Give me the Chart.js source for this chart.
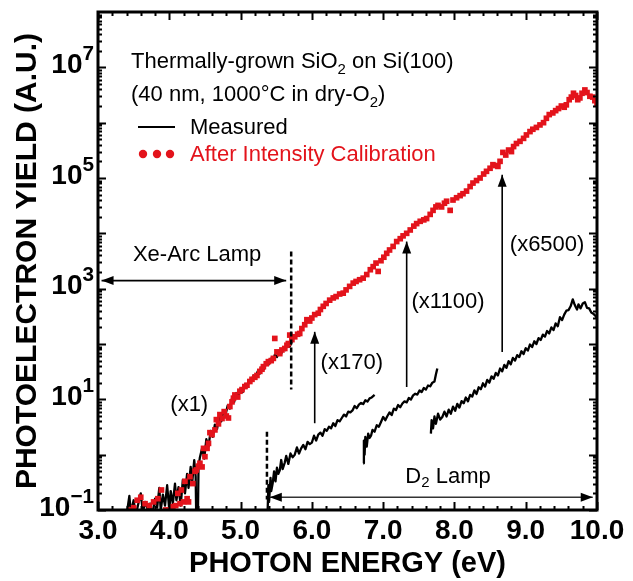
<!DOCTYPE html>
<html>
<head>
<meta charset="utf-8">
<script src="https://cdn.jsdelivr.net/npm/chart.js@4.4.1/dist/chart.umd.min.js"></script>
<style>
body { margin: 0; background: #fff; }
#wrap { width: 633px; height: 581px; }
</style>
</head>
<body>
<div id="wrap"><canvas id="pys"></canvas></div>
<script>
const FONT = '"Liberation Sans", Arial, Helvetica, sans-serif';
const RED = '#e3131b';

// After Intensity Calibration (red squares)
const calEnergy = [3.45, 3.50, 3.55, 3.60, 3.66, 3.72, 3.78, 3.84, 3.89, 3.95, 3.99, 4.02, 4.05, 4.09, 4.12, 4.15, 4.17, 4.20, 4.22, 4.25,
    4.27, 4.29, 4.33, 4.36, 4.38, 4.41, 4.43, 4.46, 4.48, 4.50, 4.53, 4.55, 4.57, 4.60, 4.64, 4.66, 4.69, 4.71, 4.74, 4.77,
    4.80, 4.83, 4.85, 4.88, 4.90, 4.92, 4.96, 4.99, 5.02, 5.06, 5.09, 5.13, 5.16, 5.20, 5.23, 5.27, 5.30, 5.32, 5.36, 5.39,
    5.43, 5.46, 5.48, 5.51, 5.55, 5.58, 5.62, 5.65, 5.67, 5.69, 5.72, 5.76, 5.80, 5.83, 5.86, 5.90, 5.93, 5.97, 6.00, 6.04,
    6.09, 6.12, 6.16, 6.20, 6.25, 6.30, 6.34, 6.39, 6.44, 6.48, 6.53, 6.58, 6.62, 6.67, 6.72, 6.77, 6.82, 6.86, 6.90, 6.93,
    6.97, 7.01, 7.05, 7.09, 7.14, 7.19, 7.24, 7.28, 7.33, 7.38, 7.43, 7.47, 7.52, 7.57, 7.61, 7.66, 7.70, 7.74, 7.77, 7.82,
    7.86, 7.89, 7.94, 7.98, 8.03, 8.08, 8.12, 8.17, 8.22, 8.26, 8.31, 8.36, 8.41, 8.45, 8.50, 8.54, 8.58, 8.61, 8.64, 8.68,
    8.72, 8.76, 8.80, 8.83, 8.87, 8.92, 8.97, 9.01, 9.06, 9.10, 9.15, 9.20, 9.25, 9.29, 9.33, 9.38, 9.42, 9.46, 9.50, 9.54,
    9.57, 9.61, 9.64, 9.67, 9.70, 9.73, 9.76, 9.79, 9.83, 9.86, 9.90, 9.94, 9.97, 10.0];
const calYield = [0.10, 0.11, 0.15, 0.17, 0.13, 0.12, 0.14, 0.16, 0.23, 0.10, 0.10, 0.09, 0.115, 0.12, 0.20, 0.13, 0.23, 0.14, 0.33, 0.16,
    0.14, 0.40, 0.30, 0.50, 0.53, 0.62, 0.70, 0.60, 1.3, 0.92, 1.3, 1.6, 2.5, 2.3, 2.8, 4.3, 3.6, 5.3, 4.5, 6.0,
    5.0, 4.6, 7.4, 9.0, 10.5, 12, 11, 14, 15, 17, 18, 21, 23, 25, 27, 32, 35, 39, 44, 48,
    50, 55, 126, 72, 67, 78, 83, 95, 102, 145, 120, 135, 150, 155, 190, 223, 275, 260, 295, 340,
    360, 420, 480, 540, 620, 680, 720, 800, 830, 950, 1100, 1260, 1350, 1450, 1550, 1800, 2200, 2500, 2900, 2050,
    3200, 3700, 4350, 5000, 5800, 7100, 8000, 9000, 10000, 11500, 13500, 15000, 16500, 17500, 18500, 22000, 26000, 30000, 32000, 30000,
    35000, 38000, 26000, 40000, 44000, 48000, 52000, 58000, 70000, 81000, 90000, 100000, 118000, 132000, 150000, 174000, 168000, 162000, 200000, 290000,
    260000, 320000, 300000, 370000, 420000, 460000, 520000, 600000, 690000, 760000, 820000, 910000, 1.0e6, 1.2e6, 1.4e6, 1.5e6, 1.65e6, 1.8e6, 2.0e6, 1.9e6,
    2.1e6, 2.6e6, 2.9e6, 3.4e6, 3.1e6, 2.6e6, 2.8e6, 3.4e6, 3.9e6, 3.5e6, 3.0e6, 2.9e6, 2.5e6, 2.25e6];

// Measured, Xe-arc lamp (x1)
const xeEnergy = [3.40, 3.44, 3.46, 3.50, 3.53, 3.56, 3.60, 3.63, 3.66, 3.70, 3.73, 3.76, 3.80, 3.83, 3.86, 3.88, 3.91, 3.94, 3.97, 4.00,
    4.02, 4.05, 4.08, 4.10, 4.13, 4.16, 4.19, 4.22, 4.25, 4.27, 4.30, 4.32, 4.35, 4.37, 4.38, 4.40, 4.41, 4.43, 4.46, 4.49,
    4.52, 4.55, 4.58, 4.61, 4.64, 4.67, 4.70, 4.73, 4.76, 4.79, 4.82, 4.85, 4.88, 4.91, 4.94, 4.97, 5.00, 5.03, 5.06, 5.09,
    5.12, 5.15, 5.18, 5.21, 5.24, 5.27, 5.30, 5.33, 5.36, 5.39, 5.42, 5.45, 5.48, 5.51, 5.54, 5.57, 5.60, 5.63, 5.66, 5.69, 5.72];
const xeYield = [0.08, 0.18, 0.09, 0.15, 0.08, 0.12, 0.20, 0.09, 0.14, 0.10, 0.13, 0.08, 0.16, 0.11, 0.25, 0.10, 0.19, 0.12, 0.28, 0.10,
    0.22, 0.13, 0.30, 0.15, 0.26, 0.12, 0.35, 0.20, 0.45, 0.25, 0.60, 0.30, 0.80, 0.40, 0.05, 0.05, 0.60, 0.90, 1.3, 0.85,
    1.9, 1.4, 2.7, 2.1, 3.5, 2.9, 4.8, 4.0, 6.2, 5.3, 7.8, 6.8, 10.5, 9.0, 13, 11.5, 15.5, 13.5, 18.5, 16.5,
    22, 21, 27, 24, 32, 29, 39, 35, 47, 42, 54, 48, 64, 58, 75, 66, 88, 78, 104, 90, 112];

// Measured, D2 lamp (x170)
const d2aEnergy = [5.38, 5.39, 5.40, 5.42, 5.43, 5.45, 5.47, 5.49, 5.51, 5.53, 5.55, 5.57, 5.59, 5.62, 5.64, 5.67, 5.70, 5.73, 5.76, 5.79,
    5.82, 5.85, 5.88, 5.91, 5.94, 5.97, 6.00, 6.03, 6.06, 6.09, 6.12, 6.15, 6.18, 6.21, 6.24, 6.27, 6.30, 6.33, 6.36, 6.39,
    6.42, 6.45, 6.48, 6.51, 6.54, 6.57, 6.60, 6.63, 6.66, 6.69, 6.72, 6.75, 6.78, 6.81, 6.84, 6.88];
const d2aYield = [0.10, 0.28, 0.14, 0.38, 0.22, 0.30, 0.50, 0.33, 0.58, 0.45, 0.52, 0.80, 0.55, 0.72, 0.95, 0.68, 1.05, 0.90, 1.0, 1.35,
    1.05, 1.3, 1.5, 1.25, 1.7, 1.55, 1.65, 2.2, 1.8, 2.3, 2.5, 2.2, 2.9, 2.7, 3.2, 3.0, 3.7, 3.3, 4.2, 4.0,
    4.6, 5.3, 4.9, 6.0, 5.8, 6.3, 7.6, 6.9, 8.0, 8.6, 8.2, 9.6, 9.1, 10.4, 10.8, 12.0];

// Measured, D2 lamp (x1100)
const d2bEnergy = [6.72, 6.73, 6.74, 6.75, 6.77, 6.79, 6.81, 6.83, 6.85, 6.88, 6.91, 6.94, 6.97, 7.00, 7.03, 7.06, 7.09, 7.12, 7.15, 7.18,
    7.21, 7.24, 7.27, 7.30, 7.33, 7.36, 7.39, 7.42, 7.45, 7.48, 7.51, 7.54, 7.57, 7.60, 7.63, 7.66, 7.69, 7.72, 7.74, 7.76];
const d2bYield = [0.70, 1.8, 1.0, 2.1, 1.4, 2.4, 2.0, 2.2, 2.8, 2.6, 3.4, 3.2, 3.9, 4.8, 4.2, 5.0, 5.8, 5.2, 6.8, 6.4,
    7.9, 7.2, 8.4, 9.2, 8.8, 10.6, 9.9, 11.8, 12.6, 12.2, 14.5, 13.5, 16.0, 15.0, 17.8, 17.2, 20, 21, 28, 36];

// Measured, D2 lamp (x6500)
const d2cEnergy = [7.67, 7.68, 7.70, 7.72, 7.74, 7.77, 7.80, 7.83, 7.86, 7.89, 7.92, 7.95, 7.98, 8.01, 8.04, 8.07, 8.10, 8.13, 8.16, 8.19,
    8.22, 8.25, 8.28, 8.31, 8.34, 8.37, 8.40, 8.43, 8.46, 8.49, 8.52, 8.55, 8.58, 8.61, 8.64, 8.67, 8.70, 8.73, 8.76, 8.79,
    8.82, 8.85, 8.88, 8.91, 8.94, 8.97, 9.00, 9.03, 9.06, 9.09, 9.12, 9.15, 9.18, 9.21, 9.24, 9.27, 9.30, 9.33, 9.36, 9.39,
    9.42, 9.45, 9.48, 9.51, 9.54, 9.57, 9.60, 9.63, 9.66, 9.68, 9.70, 9.72, 9.74, 9.77, 9.80, 9.83, 9.86, 9.89, 9.92, 9.95, 9.98, 10.0];
const d2cYield = [2.4, 4.2, 3.0, 4.9, 3.6, 5.5, 4.3, 4.8, 6.0, 4.9, 6.5, 5.5, 7.4, 6.2, 8.3, 7.1, 9.3, 8.5, 10.8, 9.2,
    12.0, 11.2, 14.5, 12.5, 16.5, 15.2, 19.5, 17.0, 22.5, 20.0, 26, 23.5, 30, 27, 36, 32, 42, 37, 49, 43,
    56, 50, 63, 58, 74, 66, 84, 76, 98, 88, 112, 100, 128, 118, 148, 136, 172, 155, 200, 178,
    235, 210, 305, 270, 340, 400, 410, 480, 640, 540, 470, 420, 520, 440, 540, 570, 450, 440, 370, 350, 320, 290];

// axis labels
const xTickLabels = ['3.0', '4.0', '5.0', '6.0', '7.0', '8.0', '9.0', '10.0'];
const yLabelExponents = [-1, 1, 3, 5, 7];

function pts(xs, ys) {
    return xs.map((x, i) => ({x: x, y: ys[i]}));
}

function measured(xs, ys) {
    return {
        data: pts(xs, ys),
        showLine: true,
        borderColor: '#000',
        borderWidth: 2.3,
        borderJoinStyle: 'round',
        pointRadius: 0,
        tension: 0,
    };
}

// text with sub/superscript pieces
function richWidth(ctx, parts, size, weight, small) {
    let w = 0;
    for (let [t, m] of parts) {
        ctx.font = weight + ' ' + (m ? size * small : size) + 'px ' + FONT;
        w += ctx.measureText(t).width;
    }
    return w;
}
function richText(ctx, parts, x, y, size, weight, align, small) {
    small = small || 0.68;
    let w = richWidth(ctx, parts, size, weight, small);
    let cx = align == 'right' ? x - w : align == 'center' ? x - w / 2 : x;
    ctx.textAlign = 'left';
    for (let [t, m] of parts) {
        ctx.font = weight + ' ' + (m ? size * small : size) + 'px ' + FONT;
        let dy = m == 'sub' ? size * 0.28 : m == 'sup' ? -size * 0.4 : 0;
        ctx.fillText(t, cx, y + dy);
        cx += ctx.measureText(t).width;
    }
}

function arrowHead(ctx, x, y, dx, dy) {
    let len = Math.hypot(dx, dy), ux = dx / len, uy = dy / len;
    let L = 12, W = 4.5;
    ctx.beginPath();
    ctx.moveTo(x, y);
    ctx.lineTo(x - ux * L - uy * W, y - uy * L + ux * W);
    ctx.lineTo(x - ux * L + uy * W, y - uy * L - ux * W);
    ctx.closePath();
    ctx.fill();
}
function arrow(ctx, x1, y1, x2, y2, both) {
    ctx.beginPath();
    ctx.moveTo(x1, y1);
    ctx.lineTo(x2, y2);
    ctx.stroke();
    arrowHead(ctx, x2, y2, x2 - x1, y2 - y1);
    if (both) arrowHead(ctx, x1, y1, x1 - x2, y1 - y2);
}

const frameAndAnnotations = {
    id: 'frameAndAnnotations',
    afterDraw(chart) {
        const {ctx, chartArea: a, scales: {x, y}} = chart;
        ctx.save();
        ctx.strokeStyle = '#000';
        ctx.fillStyle = '#000';

        // inward tick marks on all four sides
        ctx.lineWidth = 2;
        ctx.beginPath();
        for (let i = 0; i <= 35; i++) {
            let px = Math.round(x.getPixelForValue(3 + i * 0.2)) + 0.5;
            let len = i % 5 == 0 ? 8 : 4;
            ctx.moveTo(px, a.bottom); ctx.lineTo(px, a.bottom - len);
            ctx.moveTo(px, a.top); ctx.lineTo(px, a.top + len);
        }
        for (let e = -1; e <= 7; e++) {
            for (let m = 1; m <= 9; m++) {
                let py = Math.round(y.getPixelForValue(m * Math.pow(10, e))) + 0.5;
                let len = m == 1 ? 8 : 4;
                ctx.moveTo(a.left, py); ctx.lineTo(a.left + len, py);
                ctx.moveTo(a.right, py); ctx.lineTo(a.right - len, py);
            }
        }
        ctx.stroke();

        // frame
        ctx.lineWidth = 3;
        ctx.strokeRect(a.left, a.top, a.right - a.left, a.bottom - a.top);

        // y tick labels 10^n
        ctx.textBaseline = 'middle';
        for (let e of yLabelExponents) {
            let py = y.getPixelForValue(Math.pow(10, e));
            richText(ctx, [['10', ''], [String(e).replace('-', '\u2212'), 'sup']], a.left - 4, py - 2, 28, 'bold', 'right', 0.74);
        }

        // legend block
        ctx.textBaseline = 'alphabetic';
        richText(ctx, [['Thermally-grown SiO', ''], ['2', 'sub'], [' on Si(100)', '']], 131, 68, 22, 'normal', 'left');
        richText(ctx, [['(40 nm, 1000\u00b0C in dry-O', ''], ['2', 'sub'], [')', '']], 131, 101, 22, 'normal', 'left');
        ctx.textBaseline = 'middle';
        ctx.lineWidth = 2;
        ctx.beginPath(); ctx.moveTo(138, 127); ctx.lineTo(175, 127); ctx.stroke();
        ctx.font = '22px ' + FONT;
        ctx.fillText('Measured', 190, 128);
        ctx.fillStyle = RED;
        for (let cx of [143, 157, 170]) {
            ctx.beginPath(); ctx.arc(cx, 154, 4.2, 0, 2 * Math.PI); ctx.fill();
        }
        ctx.fillText('After Intensity Calibration', 190, 155);
        ctx.fillStyle = '#000';

        // Xe-Arc lamp range
        ctx.lineWidth = 1.6;
        arrow(ctx, x.getPixelForValue(3.05), y.getPixelForValue(1400), x.getPixelForValue(5.64), y.getPixelForValue(1400), true);
        ctx.textAlign = 'center';
        ctx.font = '22px ' + FONT;
        ctx.fillText('Xe-Arc Lamp', x.getPixelForValue(4.39), y.getPixelForValue(4100));
        ctx.fillText('(x1)', x.getPixelForValue(4.28), y.getPixelForValue(8));

        // dashed lamp boundaries
        ctx.lineWidth = 2.5;
        ctx.setLineDash([5, 3]);
        ctx.beginPath();
        ctx.moveTo(x.getPixelForValue(5.71), y.getPixelForValue(4700));
        ctx.lineTo(x.getPixelForValue(5.71), y.getPixelForValue(15));
        ctx.moveTo(x.getPixelForValue(5.37), y.getPixelForValue(2.6));
        ctx.lineTo(x.getPixelForValue(5.37), y.getPixelForValue(0.155));
        ctx.stroke();
        ctx.setLineDash([]);

        // D2 lamp range
        ctx.lineWidth = 1.6;
        ctx.strokeStyle = '#333';
        arrow(ctx, x.getPixelForValue(5.41), y.getPixelForValue(0.17), x.getPixelForValue(9.94), y.getPixelForValue(0.17), true);
        ctx.strokeStyle = '#000';
        richText(ctx, [['D', ''], ['2', 'sub'], [' Lamp', '']], x.getPixelForValue(7.91), y.getPixelForValue(0.40), 22, 'normal', 'center');

        // scaling arrows
        const ups = [[6.04, 3.7, 166, '(x170)', 6.56, 46], [7.33, 16.7, 7100, '(x1100)', 7.91, 575], [8.67, 72, 115000, '(x6500)', 9.30, 6200]];
        for (let [ex, y0, y1, label, lx, ly] of ups) {
            let px = x.getPixelForValue(ex);
            arrow(ctx, px, y.getPixelForValue(y0), px, y.getPixelForValue(y1), false);
            ctx.textAlign = 'center';
            ctx.font = '22px ' + FONT;
            ctx.fillText(label, x.getPixelForValue(lx), y.getPixelForValue(ly));
        }
        ctx.restore();
    }
};

Chart.defaults.color = '#000';
Chart.defaults.font.family = FONT;

const ctx_pys = document.getElementById('pys').getContext('2d');
const pysChart = new Chart(ctx_pys, {
    type: 'scatter',
    data: {
        datasets: [
            {
                data: pts(calEnergy, calYield),
                pointStyle: 'rect',
                pointRadius: 4,
                backgroundColor: RED,
                borderWidth: 0,
            },
            measured(xeEnergy, xeYield),
            measured(d2aEnergy, d2aYield),
            measured(d2bEnergy, d2bYield),
            measured(d2cEnergy, d2cYield),
        ]
    },
    options: {
        responsive: true,
        maintainAspectRatio: false,
        animation: false,
        layout: { padding: { top: 12, right: 36, left: 0, bottom: 0 } },
        plugins: {
            legend: { display: false },
            tooltip: { enabled: false },
        },
        scales: {
            x: {
                type: 'linear',
                min: 3,
                max: 10,
                ticks: {
                    stepSize: 1,
                    padding: 4,
                    maxRotation: 0,
                    callback: (v) => xTickLabels[Math.round(v - 3)],
                    font: { size: 28, weight: 'bold' },
                },
                grid: { display: false, drawTicks: false },
                border: { display: false },
                title: {
                    display: true,
                    text: 'PHOTON ENERGY (eV)',
                    font: { size: 29, weight: 'bold' },
                    padding: { top: 0, bottom: 0 },
                },
                afterFit: (s) => { s.height = 71; },
            },
            y: {
                type: 'logarithmic',
                min: 0.1,
                max: 1e8,
                ticks: { display: false },
                grid: { display: false, drawTicks: false },
                border: { display: false },
                title: {
                    display: true,
                    text: 'PHOTOELECTRON YIELD (A.U.)',
                    font: { size: 30, weight: 'bold' },
                    padding: { top: 10, bottom: 0 },
                },
                afterFit: (s) => { s.width = 98; },
            },
        },
    },
    plugins: [frameAndAnnotations],
});
</script>
</body>
</html>
